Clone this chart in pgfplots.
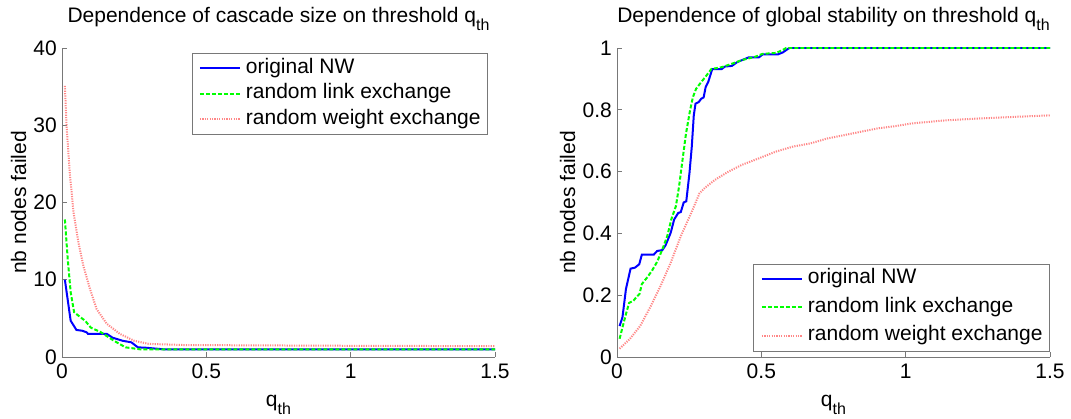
\documentclass[border=0pt]{standalone}
\usepackage{fontspec}
\setmainfont{Liberation Sans}
\usepackage{pgfplots}
\pgfplotsset{compat=1.18}

\definecolor{mblue}{rgb}{0,0,1}
\definecolor{mgreen}{rgb}{0,1,0}
\definecolor{mred}{RGB}{255,135,135}
\definecolor{axgray}{RGB}{120,120,120}

\newcommand{\qth}{q\raisebox{-8pt}{\fontsize{16}{18}\selectfont th}}

\pgfplotsset{
  mstyle/.style={
    scale only axis, width=433pt, height=309pt,
    xmin=0, xmax=1.5,
    axis x line*=bottom, axis y line*=left,
    axis line style={axgray, line width=0.9pt},
    tick align=inside, major tick length=4.5pt,
    tick style={axgray, line width=0.9pt},
    font=\fontsize{21}{25}\selectfont,
    /pgf/number format/assume math mode=true,
    every tick label/.append style={inner sep=0pt, font=\fontsize{21}{25}\selectfont},
    xticklabel style={anchor=north, yshift=-7pt},
    yticklabel style={anchor=east, xshift=-5pt},
    xtick={0,0.5,1,1.5},
    xticklabels={0,0.5,1,1.5},
    title style={at={(axis description cs:0.5,1)}, anchor=base, yshift=19pt, inner sep=0pt},
    xlabel style={at={(axis description cs:0.5,0)}, anchor=base, yshift=-50pt, inner sep=0pt},
    xlabel={\qth},
    ylabel={nb nodes failed},
    legend cell align=left,
    legend image code/.code={\draw[##1] (0pt,0pt) -- (40pt,0pt);},
    legend style={draw=axgray, line width=0.9pt, fill=white,
      font=\fontsize{21}{25}\selectfont,
      inner xsep=7pt, inner ysep=5pt, row sep=5.5pt, column sep=5pt,
      nodes={inner sep=0pt, text height=15pt, text depth=5pt}},
  }
}

\begin{document}
\begin{tikzpicture}
\path[use as bounding box] (0,0) rectangle (1071pt,419pt);

% ---------------- left panel ----------------
\begin{axis}[mstyle,
  at={(62pt,62pt)}, anchor=south west,
  ymin=0, ymax=40, ytick={0,10,20,30,40},
  yticklabels={0,10,20,30,40},
  ylabel style={at={(axis description cs:-0.083,0.5)}, anchor=base, inner sep=0pt},
  title={Dependence of cascade size on threshold \qth},
  legend style={at={(axis description cs:0.984,0.984)}, anchor=north east},
]
\addplot[mblue, line width=2pt] coordinates {
 (0.01,10) (0.03,4.7) (0.05,3.5) (0.07,3.4) (0.085,3.2) (0.09,3.0) (0.155,3.0)
 (0.175,2.5) (0.21,2.1) (0.24,1.9) (0.263,1.25) (0.29,1.2) (0.35,1.0) (1.5,1.0)};
\addlegendentry{original NW}
\addplot[mgreen, line width=2pt, dash pattern=on 4pt off 2pt] coordinates {
 (0.01,17.8) (0.02,12.6) (0.03,8.4) (0.042,5.8) (0.062,5.2) (0.08,4.7) (0.1,3.8)
 (0.135,3.2) (0.18,2.1) (0.22,1.25) (0.27,1.0) (1.5,1.0)};
\addlegendentry{random link exchange}
\addplot[mred, line width=2pt, dash pattern=on 1.2pt off 1.2pt] coordinates {
 (0.01,35.1) (0.016,29.8) (0.027,23.8) (0.04,18.7) (0.057,14.8) (0.074,11.8)
 (0.097,8.8) (0.12,6.2) (0.155,4.3) (0.2,3.0) (0.25,2.1) (0.3,1.7) (0.42,1.55)
 (0.7,1.5) (1.0,1.45) (1.5,1.4)};
\addlegendentry{random weight exchange}
\end{axis}

% ---------------- right panel ----------------
\begin{axis}[mstyle,
  at={(617pt,62pt)}, anchor=south west,
  ymin=0, ymax=1, ytick={0,0.2,0.4,0.6,0.8,1},
  yticklabels={0,0.2,0.4,0.6,0.8,1},
  ylabel style={at={(axis description cs:-0.097,0.5)}, anchor=base, inner sep=0pt},
  title={Dependence of global stability on threshold \qth},
  legend style={at={(axis description cs:1,0.018)}, anchor=south east, row sep=8.5pt},
]
\addplot[mblue, line width=2pt] coordinates {
 (0.009,0.10) (0.019,0.129) (0.031,0.22) (0.047,0.286) (0.062,0.289) (0.077,0.30)
 (0.086,0.331) (0.127,0.331) (0.139,0.343) (0.157,0.346) (0.168,0.361) (0.186,0.402)
 (0.198,0.445) (0.212,0.466) (0.221,0.469) (0.231,0.50) (0.24,0.504) (0.251,0.595)
 (0.259,0.68) (0.266,0.782) (0.272,0.82) (0.283,0.825) (0.292,0.836) (0.30,0.84)
 (0.307,0.873) (0.316,0.89) (0.33,0.932) (0.363,0.932) (0.374,0.94) (0.398,0.942)
 (0.416,0.954) (0.457,0.97) (0.492,0.97) (0.504,0.979) (0.557,0.979) (0.575,0.986)
 (0.592,0.997) (0.598,1.0) (1.5,1.0)};
\addlegendentry{original NW}
\addplot[mgreen, line width=2pt, dash pattern=on 4pt off 2pt] coordinates {
 (0.009,0.059) (0.019,0.096) (0.031,0.139) (0.042,0.175) (0.057,0.182) (0.068,0.195)
 (0.078,0.204) (0.086,0.236) (0.104,0.257) (0.121,0.279) (0.139,0.308) (0.157,0.348)
 (0.174,0.391) (0.188,0.445) (0.204,0.488) (0.215,0.552) (0.227,0.638) (0.239,0.723)
 (0.253,0.798) (0.263,0.841) (0.274,0.868) (0.292,0.89) (0.31,0.911) (0.327,0.932)
 (0.363,0.938) (0.398,0.949) (0.433,0.961) (0.48,0.972) (0.504,0.981) (0.551,0.984)
 (0.575,0.994) (0.586,1.0) (1.5,1.0)};
\addlegendentry{random link exchange}
\addplot[mred, line width=2pt, dash pattern=on 1.2pt off 1.2pt] coordinates {
 (0.009,0.027) (0.045,0.059) (0.08,0.10) (0.115,0.161) (0.151,0.23) (0.186,0.305)
 (0.221,0.391) (0.257,0.466) (0.286,0.53) (0.304,0.547) (0.339,0.573) (0.386,0.60)
 (0.433,0.622) (0.492,0.643) (0.551,0.665) (0.61,0.681) (0.669,0.691) (0.728,0.707)
 (0.787,0.718) (0.845,0.729) (0.904,0.74) (0.963,0.747) (1.022,0.756) (1.081,0.761)
 (1.14,0.766) (1.258,0.772) (1.375,0.777) (1.5,0.782)};
\addlegendentry{random weight exchange}
\end{axis}
\end{tikzpicture}
\end{document}
